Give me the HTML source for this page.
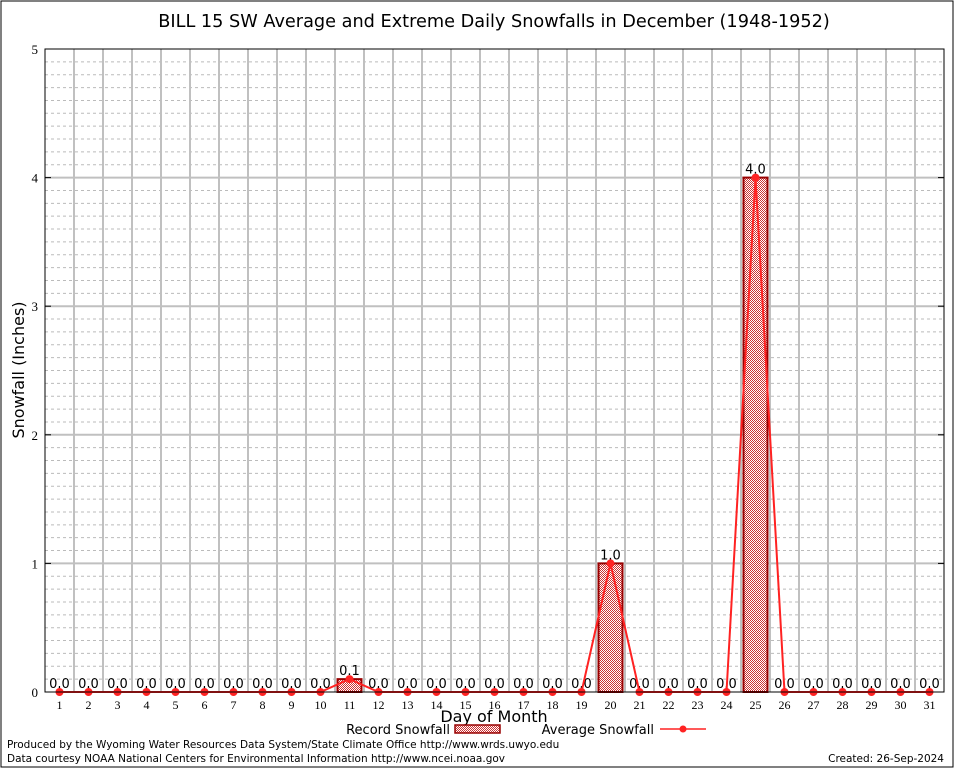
<!DOCTYPE html>
<html><head><meta charset="utf-8"><style>
body{margin:0;background:#fff;width:954px;height:768px;overflow:hidden}
svg{display:block;font-family:"DejaVu Sans","Liberation Sans",sans-serif}
</style></head><body>
<svg id="c" width="954" height="768">
<defs>
<pattern id="chk" width="2" height="2" patternUnits="userSpaceOnUse">
<rect width="2" height="2" fill="#fff"/><rect width="1" height="1" fill="#c33"/><rect x="1" y="1" width="1" height="1" fill="#c33"/>
</pattern>
</defs>
<rect x="1" y="1" width="952" height="766" fill="none" stroke="#000" stroke-width="1"/>
<text x="494" y="27" font-size="17.7" text-anchor="middle" font-family="DejaVu Sans,sans-serif">BILL 15 SW Average and Extreme Daily Snowfalls in December (1948-1952)</text>
<g id="grid"></g>
<g id="marks"></g>
<rect x="45" y="49" width="899" height="643" fill="none" stroke="#000"/>
<text transform="translate(24,370) rotate(-90)" font-size="16" text-anchor="middle">Snowfall (Inches)</text>
<text x="494" y="722" font-size="16" text-anchor="middle">Day of Month</text>
<g>
<text x="450" y="734" font-size="13" text-anchor="end">Record Snowfall</text>
<rect x="455" y="725" width="45" height="8" fill="url(#chk)" stroke="#900" stroke-width="1.5"/>
</g>
<g>
<text x="654" y="734" font-size="13" text-anchor="end">Average Snowfall</text>
<line x1="660" y1="729" x2="706" y2="729" stroke="#f22" stroke-width="1.5"/>
<circle cx="683" cy="729" r="3.5" fill="#f22"/>
</g>
<text x="7" y="748" font-size="10.5">Produced by the Wyoming Water Resources Data System/State Climate Office http://www.wrds.uwyo.edu</text>
<text x="7" y="762" font-size="10.5">Data courtesy NOAA National Centers for Environmental Information http://www.ncei.noaa.gov</text>
<text x="944" y="762" font-size="10.5" text-anchor="end">Created: 26-Sep-2024</text>
</svg>
<script>
const days=[1,2,3,4,5,6,7,8,9,10,11,12,13,14,15,16,17,18,19,20,21,22,23,24,25,26,27,28,29,30,31];
const recordValues=[0,0,0,0,0,0,0,0,0,0,0.1,0,0,0,0,0,0,0,0,1.0,0,0,0,0,4.0,0,0,0,0,0,0];
const averageValues=[0,0,0,0,0,0,0,0,0,0,0.1,0,0,0,0,0,0,0,0,1.0,0,0,0,0,4.0,0,0,0,0,0,0];
const yTicks=[0,1,2,3,4,5];
const NS='http://www.w3.org/2000/svg';
const L=45,R=944,T=49,B=692,yMax=5;
const xs=d=>L+(d-0.5)*(R-L)/31;
const ys=v=>B-v*(B-T)/yMax;
function mk(tag,attrs,parent){const e=document.createElementNS(NS,tag);for(const k in attrs)e.setAttribute(k,attrs[k]);parent.appendChild(e);return e;}
const grid=document.getElementById('grid'),marks=document.getElementById('marks');
for(let i=1;i<yMax*10;i++){if(i%10===0)continue;const y=ys(i/10);
const l=mk('line',{x1:L,x2:R,y1:y,y2:y,stroke:'#bbb','stroke-dasharray':'3,3','stroke-width':1},grid);

}
for(let i=1;i<31;i++){const x=xs(i+0.5);
const l=mk('line',{x1:x,x2:x,y1:T,y2:B,stroke:'#c0c0c0','stroke-width':2},grid);

}
yTicks.forEach(t=>{const y=ys(t);
if(t>0&&t<yMax){const l=mk('line',{x1:L,x2:R,y1:y,y2:y,stroke:'#c0c0c0','stroke-width':2},grid);

}
mk('line',{x1:L,x2:L+6,y1:y,y2:y,stroke:'#000'},grid);mk('line',{x1:R-6,x2:R,y1:y,y2:y,stroke:'#000'},grid);
const tx=mk('text',{x:L-7,y:y+5,'font-size':13,'text-anchor':'end','font-family':'Liberation Serif,serif'},grid);tx.textContent=t;

});
days.forEach((d,i)=>{const x=xs(d);
mk('line',{x1:x,x2:x,y1:B-6,y2:B,stroke:'#000'},grid);
const tx=mk('text',{x:x,y:B+17,'font-size':12,'text-anchor':'middle','font-family':'Liberation Serif,serif'},grid);tx.textContent=d;


const v=recordValues[i];
if(v>0){const b=mk('rect',{x:x-12,y:ys(v),width:24,height:B-ys(v),fill:'url(#chk)',stroke:'#900','stroke-width':2},marks);

}
const lb=mk('text',{x:x,y:ys(v)-4,'font-size':13,'text-anchor':'middle'},marks);lb.textContent=v.toFixed(1);

});
const pl=mk('polyline',{points:days.map((d,i)=>xs(d)+','+ys(averageValues[i])).join(' '),fill:'none',stroke:'#f22','stroke-width':2},marks);


days.forEach((d,i)=>{const c=mk('circle',{cx:xs(d),cy:ys(averageValues[i]),r:4,fill:'#f22'},marks);

});
</script>
</body></html>
